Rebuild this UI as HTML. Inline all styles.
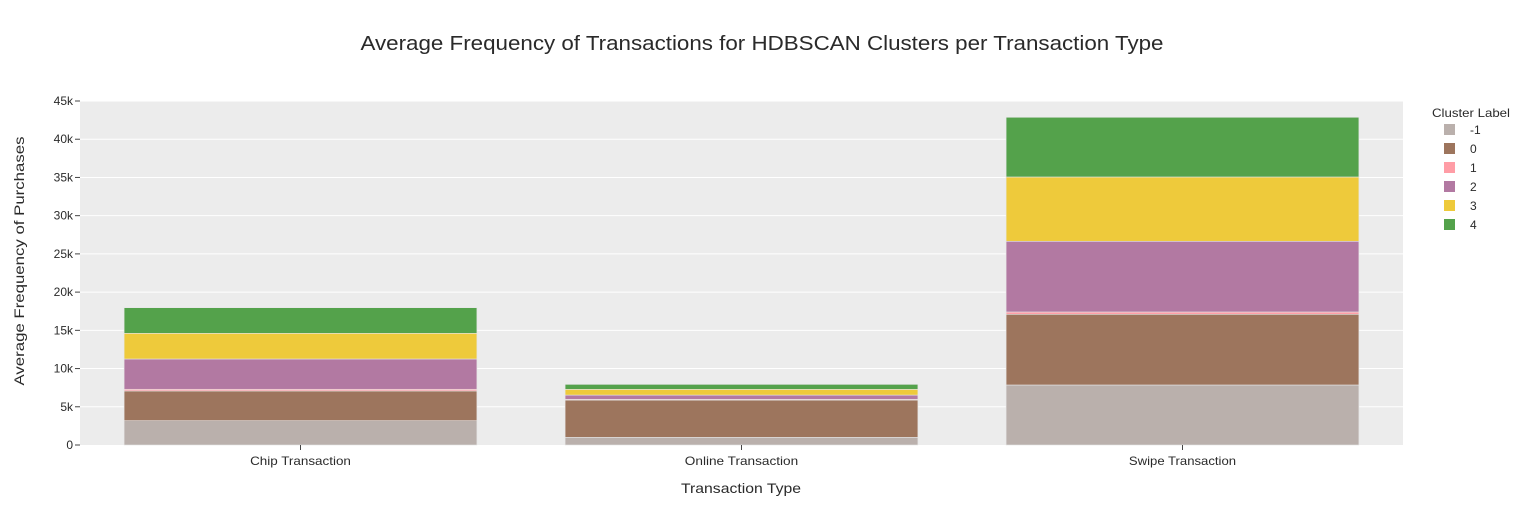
<!DOCTYPE html>
<html><head><meta charset="utf-8"><style>
body{margin:0;background:#fff;font-family:"Liberation Sans",Arial,sans-serif}
svg text{font-family:"Liberation Sans",Arial,sans-serif}
</style></head><body>
<svg id="chart" width="1525" height="525" xmlns="http://www.w3.org/2000/svg">
<rect width="1525" height="525" fill="#fff"/>
<rect x="80" y="101" width="1323" height="344" fill="#ececec"/>
<g id="grid"></g><g id="bars"></g><g id="axes"></g><g id="legend"></g>
<text x="762" y="50" text-anchor="middle" font-size="20" textLength="803" lengthAdjust="spacingAndGlyphs" fill="#2a2a2a">Average Frequency of Transactions for HDBSCAN Clusters per Transaction Type</text>
<text x="741" y="493" text-anchor="middle" font-size="14" textLength="120" lengthAdjust="spacingAndGlyphs" fill="#2a2a2a">Transaction Type</text>
<text transform="translate(24,261) rotate(-90)" text-anchor="middle" font-size="14" textLength="249" lengthAdjust="spacingAndGlyphs" fill="#2a2a2a">Average Frequency of Purchases</text>
<text x="1432" y="117" font-size="12" textLength="78" lengthAdjust="spacingAndGlyphs" fill="#2a2a2a">Cluster Label</text>
</svg>
<script>
const categories=["Chip Transaction","Online Transaction","Swipe Transaction"];
const clusters=["-1","0","1","2","3","4"];
const colors=["#bab0ac","#9d755d","#ff9da6","#b279a2","#eeca3b","#54a24b"];
const sNeg1=[3180,1000,7850];
const s0=[3890,4880,9250];
const s1=[220,100,300];
const s2=[3960,550,9250];
const s3=[3360,750,8410];
const s4=[3350,650,7810];
const series=[sNeg1,s0,s1,s2,s3,s4];
const yTicks=[0,5000,10000,15000,20000,25000,30000,35000,40000,45000];
const yTickLabels=["0","5k","10k","15k","20k","25k","30k","35k","40k","45k"];
const NS="http://www.w3.org/2000/svg";
const X0=80,X1=1403,Y0=445,Y1=101,YMAX=45000;
const y=v=>Y0-(v/YMAX)*(Y0-Y1);
const band=(X1-X0)/categories.length;
const xc=i=>X0+band*(i+0.5);
function mk(t,a,p){const e=document.createElementNS(NS,t);for(const k in a)e.setAttribute(k,a[k]);p.appendChild(e);return e;}
const grid=document.getElementById('grid'),axes=document.getElementById('axes'),bars=document.getElementById('bars'),leg=document.getElementById('legend');
yTicks.forEach((v,i)=>{
 if(v>0){const l=mk('line',{x1:X0,x2:X1,y1:y(v),y2:y(v),stroke:'#fff','stroke-width':1},grid);
 
 }
 const tk=mk('line',{x1:X0-5,x2:X0,y1:y(v),y2:y(v),stroke:'#444'},axes);
 
 
 const t=mk('text',{x:X0-7,y:y(v)+4,'text-anchor':'end','font-size':12,fill:'#2a2a2a'},axes);
 t.textContent=yTickLabels[i];
 
 
});
const bw=band*0.8;
categories.forEach((c,i)=>{
 let acc=0;
 series.forEach((s,j)=>{
  const r=mk('rect',{x:xc(i)-bw/2,y:y(acc+s[i]),width:bw,height:y(acc)-y(acc+s[i]),fill:colors[j],stroke:'#e5e5e5','stroke-width':0.6},bars);
  
  
  acc+=s[i];
 });
 const tk=mk('line',{x1:xc(i),x2:xc(i),y1:Y0,y2:Y0+5,stroke:'#444'},axes);
 
 
 const t=mk('text',{x:xc(i),y:465,'text-anchor':'middle','font-size':12,fill:'#2a2a2a',textLength:c.length*6.3,lengthAdjust:'spacingAndGlyphs'},axes);
 t.textContent=c;
 
 
});
clusters.forEach((c,j)=>{
 const yy=130+j*19;
 const r=mk('rect',{x:1444,y:yy-6,width:11,height:11,fill:colors[j]},leg);
 
 
 const t=mk('text',{x:1470,y:yy+4,'font-size':12,fill:'#2a2a2a'},leg);
 t.textContent=c;
 
 
});
</script>
</body></html>
